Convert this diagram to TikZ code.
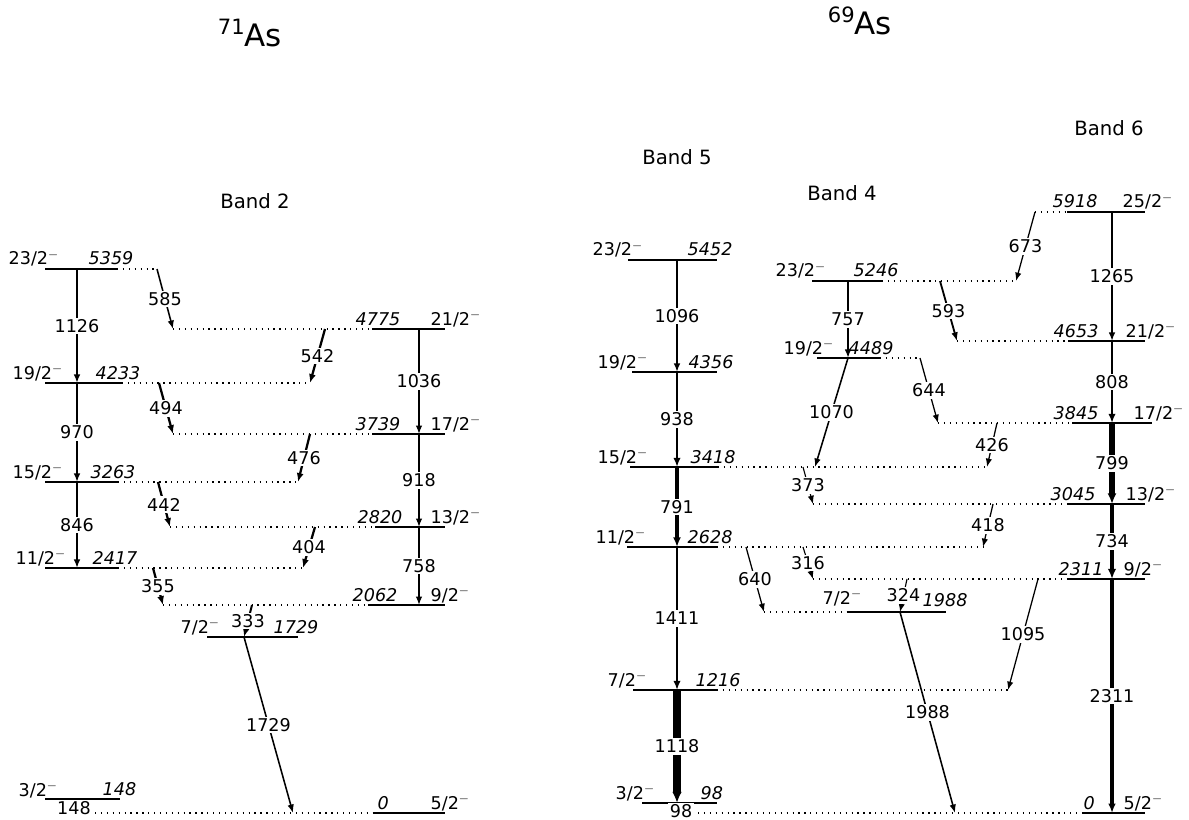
\documentclass[tikz,border=0pt]{standalone}
\usepackage{fontspec}
\setmainfont{DejaVu Sans}
\usetikzlibrary{arrows.meta}

\newcommand{\glfont}{\fontsize{12.5}{14}\selectfont}
\newcommand{\bandfont}{\fontsize{14}{16}\selectfont}

\tikzset{
  lev/.style={line width=1pt},
  dots/.style={line width=0.9pt, dash pattern=on 0.9pt off 3.3pt},
  gam/.style={line width=#1, -{Latex[length=5.5pt 0.5, width=4pt 0.6]}},
  gam/.default=1pt,
  glab/.style={fill=white, inner sep=1.3pt, font=\glfont},
  spin/.style={anchor=base west, inner sep=0pt, font=\glfont},
  en/.style={anchor=base west, inner sep=0pt, font=\glfont\itshape},
  bandlab/.style={font=\bandfont},
}

\begin{document}
\begin{tikzpicture}[x=0.025cm, y=-0.025cm]
  \useasboundingbox (0,0) rectangle (1189,820);

  % titles
  \node[font=\fontsize{22}{26}\selectfont] (t71) at (250,33) {\raisebox{8pt}{\fontsize{15}{18}\selectfont 71}As};
  \node[font=\fontsize{22}{26}\selectfont] (t69) at (860,21) {\raisebox{8pt}{\fontsize{15}{18}\selectfont 69}As};
  \node[bandlab] (band2) at (255,201) {Band 2};
  \node[bandlab] (band5) at (677,157) {Band 5};
  \node[bandlab] (band4) at (842,193) {Band 4};
  \node[bandlab] (band6) at (1109,128) {Band 6};

  % band axes
  \coordinate (ax1) at (77,0);
  \coordinate (ax2) at (419,0);
  \coordinate (ax5) at (677,0);
  \coordinate (ax4) at (848,0);
  \coordinate (ax6) at (1112,0);

  %%% 71As levels
  \draw[lev] (45,269) coordinate (a5359) -- (117,269)
    (8,265) node[spin] {23/2$^-$} (88,265) node[en] {5359};
  \draw[dots] (117,269) -- (157,269);
  \draw[lev] (45,383) coordinate (a4233) -- (122,383)
    (12,379) node[spin] {19/2$^-$} (95,379) node[en] {4233};
  \draw[dots] (122,383) -- (310,383);
  \draw[lev] (45,482) coordinate (a3263) -- (118,482)
    (12,478) node[spin] {15/2$^-$} (90,478) node[en] {3263};
  \draw[dots] (118,482) -- (298,482);
  \draw[lev] (45,568) coordinate (a2417) -- (118,568)
    (15,564) node[spin] {11/2$^-$} (92,564) node[en] {2417};
  \draw[dots] (118,568) -- (303,568);
  \draw[lev] (45,799) coordinate (a148) -- (120,799)
    (18,796) node[spin] {3/2$^-$} (102,795) node[en] {148};
  \node[glab] (g148) at (74,808) {148};

  \draw[lev] (372,329) coordinate (a4775) -- (445,329)
    (355,325) node[en] {4775} (430,325) node[spin] {21/2$^-$};
  \draw[dots] (173,329) -- (372,329);
  \draw[lev] (372,434) coordinate (a3739) -- (445,434)
    (355,430) node[en] {3739} (430,430) node[spin] {17/2$^-$};
  \draw[dots] (173,434) -- (372,434);
  \draw[lev] (375,527) coordinate (a2820) -- (445,527)
    (357,523) node[en] {2820} (430,523) node[spin] {13/2$^-$};
  \draw[dots] (170,527) -- (375,527);
  \draw[lev] (368,605) coordinate (a2062) -- (445,605)
    (352,601) node[en] {2062} (430,601) node[spin] {9/2$^-$};
  \draw[dots] (163,605) -- (368,605);
  \draw[lev] (207,637) coordinate (a1729) -- (298,637)
    (180,633) node[spin] {7/2$^-$} (273,633) node[en] {1729};
  \draw[lev] (373,813) coordinate (a0) -- (445,813)
    (377,809) node[en] {0} (430,809) node[spin] {5/2$^-$};
  \draw[dots] (95,813) -- (373,813);

  %%% 71As transitions
  \draw[gam=1.4pt] (a5359 -| ax1) -- node[glab] {1126} (a4233 -| ax1);
  \draw[gam=1.4pt] (a4233 -| ax1) -- node[glab] {970} (a3263 -| ax1);
  \draw[gam=1.4pt] (a3263 -| ax1) -- node[glab] {846} (a2417 -| ax1);
  \draw[gam=0.9pt] (a4775 -| ax2) -- node[glab] {1036} (a3739 -| ax2);
  \draw[gam=0.9pt] (a3739 -| ax2) -- node[glab] {918} (a2820 -| ax2);
  \draw[gam=0.9pt] (a2820 -| ax2) -- node[glab] {758} (a2062 -| ax2);
  \draw[gam=1.1pt] (a5359 -| 157,0) -- node[glab] {585} (a4775 -| 173,0);
  \draw[gam=1.6pt] (a4775 -| 325,0) -- node[glab] {542} (a4233 -| 310,0);
  \draw[gam=1.6pt] (a4233 -| 159,0) -- node[glab] {494} (a3739 -| 173,0);
  \draw[gam=1.6pt] (a3739 -| 310,0) -- node[glab] {476} (a3263 -| 298,0);
  \draw[gam=1.6pt] (a3263 -| 158,0) -- node[glab] {442} (a2820 -| 170,0);
  \draw[gam=1.6pt] (a2820 -| 315,0) -- node[glab] {404} (a2417 -| 303,0);
  \draw[gam=1.6pt] (a2417 -| 153,0) -- node[glab] {355} (a2062 -| 163,0);
  \draw[gam=1.4pt] (a2062 -| 252,0) -- node[glab] {333} (a1729 -| 244,0);
  \draw[gam=1.1pt] (a1729 -| 244,0) -- node[glab] {1729} (a0 -| 293,0);

  %%% 69As levels
  \draw[lev] (628,260) coordinate (b5452) -- (717,260)
    (592,256) node[spin] {23/2$^-$} (687,256) node[en] {5452};
  \draw[lev] (632,372) coordinate (b4356) -- (717,372)
    (597,368) node[spin] {19/2$^-$} (688,368) node[en] {4356};
  \draw[lev] (630,467) coordinate (b3418) -- (718,467)
    (597,463) node[spin] {15/2$^-$} (690,463) node[en] {3418};
  \draw[dots] (718,467) -- (987,467);
  \draw[lev] (627,547) coordinate (b2628) -- (717,547)
    (595,543) node[spin] {11/2$^-$} (687,543) node[en] {2628};
  \draw[dots] (717,547) -- (983,547);
  \draw[lev] (633,690) coordinate (b1216) -- (717,690)
    (607,686) node[spin] {7/2$^-$} (695,686) node[en] {1216};
  \draw[dots] (717,690) -- (1008,690);
  \draw[lev] (642,803) coordinate (b98) -- (717,803)
    (615,799) node[spin] {3/2$^-$} (700,799) node[en] {98};
  \node[glab] (g98) at (681,811) {98};

  \draw[lev] (812,281) coordinate (b5246) -- (882,281)
    (775,277) node[spin] {23/2$^-$} (853,277) node[en] {5246};
  \draw[dots] (882,281) -- (1016,281);
  \draw[lev] (817,358) coordinate (b4489) -- (880,358)
    (783,354) node[spin] {19/2$^-$} (848,354) node[en] {4489};
  \draw[dots] (880,358) -- (920,358);
  \draw[lev] (848,612) coordinate (b1988) -- (946,612)
    (822,604) node[spin] {7/2$^-$} (922,606) node[en] {1988};
  \draw[dots] (764,612) -- (848,612);

  \draw[lev] (1067,212) coordinate (b5918) -- (1145,212)
    (1052,208) node[en] {5918} (1122,208) node[spin] {25/2$^-$};
  \draw[dots] (1035,212) -- (1067,212);
  \draw[lev] (1068,341) coordinate (b4653) -- (1145,341)
    (1053,337) node[en] {4653} (1125,337) node[spin] {21/2$^-$};
  \draw[dots] (957,341) -- (1068,341);
  \draw[lev] (1072,423) coordinate (b3845) -- (1152,423)
    (1053,419) node[en] {3845} (1133,419) node[spin] {17/2$^-$};
  \draw[dots] (938,423) -- (1072,423);
  \draw[lev] (1068,504) coordinate (b3045) -- (1145,504)
    (1050,500) node[en] {3045} (1125,500) node[spin] {13/2$^-$};
  \draw[dots] (813,504) -- (1068,504);
  \draw[lev] (1068,579) coordinate (b2311) -- (1145,579)
    (1058,575) node[en] {2311} (1123,575) node[spin] {9/2$^-$};
  \draw[dots] (813,579) -- (1068,579);
  \draw[lev] (1082,813) coordinate (b0) -- (1145,813)
    (1083,809) node[en] {0} (1123,809) node[spin] {5/2$^-$};
  \draw[dots] (698,813) -- (1082,813);

  %%% 69As transitions
  \draw[gam=1.4pt] (b5452 -| ax5) -- node[glab] {1096} (b4356 -| ax5);
  \draw[gam=2.1pt] (b4356 -| ax5) -- node[glab] {938} (b3418 -| ax5);
  \draw[gam=2.8pt] (b3418 -| ax5) -- node[glab] {791} (b2628 -| ax5);
  \draw[gam=2.1pt] (b2628 -| ax5) -- node[glab] {1411} (b1216 -| ax5);
  \draw[gam=5pt] (b1216 -| ax5) -- node[glab] {1118} (b98 -| ax5);
  \draw[gam=1.4pt] (b5246 -| ax4) -- node[glab] {757} (b4489 -| ax4);
  \draw[gam=1.4pt] (b5918 -| ax6) -- node[glab] {1265} (b4653 -| ax6);
  \draw[gam=2.1pt] (b4653 -| ax6) -- node[glab] {808} (b3845 -| ax6);
  \draw[gam=4.2pt] (b3845 -| ax6) -- node[glab] {799} (b3045 -| ax6);
  \draw[gam=3.5pt] (b3045 -| ax6) -- node[glab] {734} (b2311 -| ax6);
  \draw[gam=2.5pt] (b2311 -| ax6) -- node[glab] {2311} (b0 -| ax6);

  \draw[gam=1.1pt] (b4489 -| ax4) -- node[glab] {1070} (b3418 -| 815,0);
  \draw[gam=0.9pt] (b4489 -| 920,0) -- node[glab] {644} (b3845 -| 938,0);
  \draw[gam=0.9pt] (b5918 -| 1035,0) -- node[glab] {673} (b5246 -| 1016,0);
  \draw[gam=1.3pt] (b5246 -| 940,0) -- node[glab] {593} (b4653 -| 957,0);
  \draw[gam=0.9pt] (b3845 -| 997,0) -- node[glab] {426} (b3418 -| 987,0);
  \draw[gam=0.9pt] (b3045 -| 993,0) -- node[glab] {418} (b2628 -| 983,0);
  \draw[gam=0.9pt] (b2311 -| 1038,0) -- node[glab] {1095} (b1216 -| 1008,0);
  \draw[gam=0.8pt] (b3418 -| 803,0) -- node[glab] {373} (b3045 -| 813,0);
  \draw[gam=0.8pt] (b2628 -| 803,0) -- node[glab] {316} (b2311 -| 813,0);
  \draw[gam=0.9pt] (b2628 -| 746,0) -- node[glab] {640} (b1988 -| 764,0);
  \draw[gam=0.8pt] (b2311 -| 907,0) -- node[glab] {324} (b1988 -| 900,0);
  \draw[gam=1.1pt] (b1988 -| 900,0) -- node[glab] {1988} (b0 -| 955,0);
\end{tikzpicture}
\end{document}
